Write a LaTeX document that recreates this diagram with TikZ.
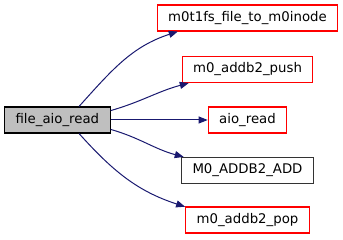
\documentclass[tikz,border=0pt]{standalone}
\usepackage{fontspec}
\setmainfont{DejaVu Sans}
\usetikzlibrary{positioning, arrows.meta}
\definecolor{cgedge}{RGB}{25,25,112}
\definecolor{cgred}{RGB}{255,0,0}
\definecolor{cggray}{RGB}{191,191,191}
\tikzset{
  fnbox/.style    = {draw=cgred, fill=white, line width=1.1pt,
                     minimum height=26pt, inner xsep=11pt,
                     font=\fontsize{13.3}{16}\selectfont},
  rootbox/.style  = {fnbox, draw=black, fill=cggray},
  macrobox/.style = {fnbox, draw=black!80},
  callarr/.style  = {-{Triangle[length=9pt,width=7pt]}, cgedge, line width=1pt},
}

\begin{document}
\begin{tikzpicture}[x=1pt, y=1pt, node distance=24.5pt]
        \useasboundingbox (0,0) rectangle (343,240);
        \node[fnbox] (aio) at (247.5,120) {aio\_read};
        \node[fnbox] (push) at (247.5,170.5) {m0\_addb2\_push};
        \node[fnbox] (inode) at (247.5,222) {m0t1fs\_file\_to\_m0inode};
        \node[macrobox] (add) at (247.5,69.5) {M0\_ADDB2\_ADD};
        \node[fnbox] (pop) at (247.5,20) {m0\_addb2\_pop};
        \node[rootbox, left=97pt of aio] (root) {file\_aio\_read};
        % calls, top to bottom
        \draw[callarr] (root.32) to[out=48, in=198] (inode.191);
        \draw[callarr] (root.10) to[out=16, in=195] (push.193);
        \draw[callarr] (root) -- (aio);
        \draw[callarr] (root.-10) to[out=-16, in=165] (add.168);
        \draw[callarr] (root.-32) to[out=-48, in=162] (pop.168);
      \end{tikzpicture}
\end{document}
